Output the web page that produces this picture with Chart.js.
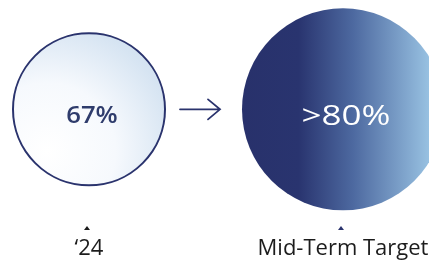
<!DOCTYPE html>
<html>
<head>
<meta charset="utf-8">
<script src="https://cdn.jsdelivr.net/npm/chart.js@4"></script>
<style>
  html, body { margin: 0; padding: 0; background: #fff; }
  canvas { display: block; }
</style>
</head>
<body>
<canvas id="targetChart" width="429" height="262"></canvas>
<script>
const periods = ['\u201824', 'Mid-Term Target'];
const shares = [67, 80];
const sharePrefix = ['', '>'];
const rowY = [0, 0];

const NAVY = '#2a336d';
const pointRadii = [76, 101];

function circleFill(context) {
    const chart = context.chart;
    if (!chart.chartArea) return 'rgba(0,0,0,0)';
    const i = context.dataIndex;
    const x = chart.scales.x.getPixelForValue(i);
    const y = chart.scales.y.getPixelForValue(rowY[i]);
    const r = pointRadii[i];
    const g = chart.ctx;
    if (i === 0) {
        const grad = g.createRadialGradient(x - r * 0.55, y + r * 0.55, 0, x - r * 0.55, y + r * 0.55, r * 2);
        grad.addColorStop(0, '#ffffff');
        grad.addColorStop(0.45, '#f6f9fd');
        grad.addColorStop(0.85, '#d6e4f2');
        grad.addColorStop(1, '#d0e0f0');
        return grad;
    }
    const grad = g.createLinearGradient(x - r, 0, x + r, 0);
    grad.addColorStop(0, '#28316b');
    grad.addColorStop(0.28, '#29346f');
    grad.addColorStop(0.55, '#4d69a0');
    grad.addColorStop(1, '#a6d2ee');
    return grad;
}

const circleLabels = {
    id: 'circleLabels',
    afterDatasetsDraw(chart) {
        const { ctx, scales } = chart;
        const pts = chart.getDatasetMeta(0).data;
        ctx.save();

        // arrow between the two circles
        const a0 = pts[0].x + pointRadii[0] + 15;
        const a1 = pts[1].x - pointRadii[1] - 22;
        const ay = (pts[0].y + pts[1].y) / 2;
        ctx.strokeStyle = NAVY;
        ctx.lineWidth = 1.8;
        ctx.lineCap = 'round';
        ctx.beginPath();
        ctx.moveTo(a0, ay);
        ctx.lineTo(a1, ay);
        ctx.moveTo(a1 - 12, ay - 10);
        ctx.lineTo(a1, ay);
        ctx.lineTo(a1 - 12, ay + 10);
        ctx.stroke();

        // values inside circles
        ctx.textAlign = 'center';
        ctx.textBaseline = 'middle';
        pts.forEach((p, i) => {
            ctx.save();
            if (i === 0) {
                ctx.translate(p.x + 3, p.y + 7);
                ctx.scale(1.07, 1);
                ctx.fillStyle = '#2f3c6c';
                ctx.font = '600 24px "Open Sans"';
            } else {
                ctx.translate(p.x + 3, p.y + 8);
                ctx.scale(1.25, 1);
                ctx.fillStyle = '#ffffff';
                ctx.font = '400 28px "Open Sans"';
            }
            ctx.fillText(sharePrefix[i] + shares[i] + '%', 0, 0);
            ctx.restore();
        });

        // small tick triangles above the category labels
        const ty = 230;
        periods.forEach((_, i) => {
            const tx = scales.x.getPixelForTick(i) - 2;
            ctx.fillStyle = i === 0 ? '#1a1a1a' : NAVY;
            ctx.beginPath();
            ctx.moveTo(tx - 3, ty);
            ctx.lineTo(tx + 3, ty);
            ctx.lineTo(tx, ty - 4);
            ctx.closePath();
            ctx.fill();
        });
        ctx.restore();
    }
};

new Chart(document.getElementById('targetChart'), {
    type: 'line',
    data: {
        labels: periods,
        datasets: [{
            data: rowY,
            showLine: false,
            clip: false,
            pointRadius: pointRadii,
            pointHoverRadius: pointRadii,
            pointBorderWidth: [2, 0],
            pointBorderColor: [NAVY, 'rgba(0,0,0,0)'],
            pointBackgroundColor: circleFill
        }]
    },
    options: {
        responsive: false,
        animation: false,
        events: [],
        layout: { autoPadding: false, padding: { left: 89, right: 86, top: 0, bottom: -8 } },
        plugins: { legend: { display: false }, tooltip: { enabled: false } },
        scales: {
            x: {
                offset: false,
                grid: { display: false, drawTicks: false },
                border: { display: false },
                ticks: {
                    color: '#1c1c1c',
                    font: { family: '"Open Sans"', size: 22 },
                    padding: 8,
                    maxRotation: 0,
                    autoSkip: false
                },
                afterFit(scale) {
                    // let the long last label run into the right margin
                    scale.paddingLeft = 0;
                    scale.paddingRight = 0;
                }
            },
            y: {
                display: false,
                min: -1.081,
                max: 1
            }
        }
    },
    plugins: [circleLabels]
});
</script>
</body>
</html>
